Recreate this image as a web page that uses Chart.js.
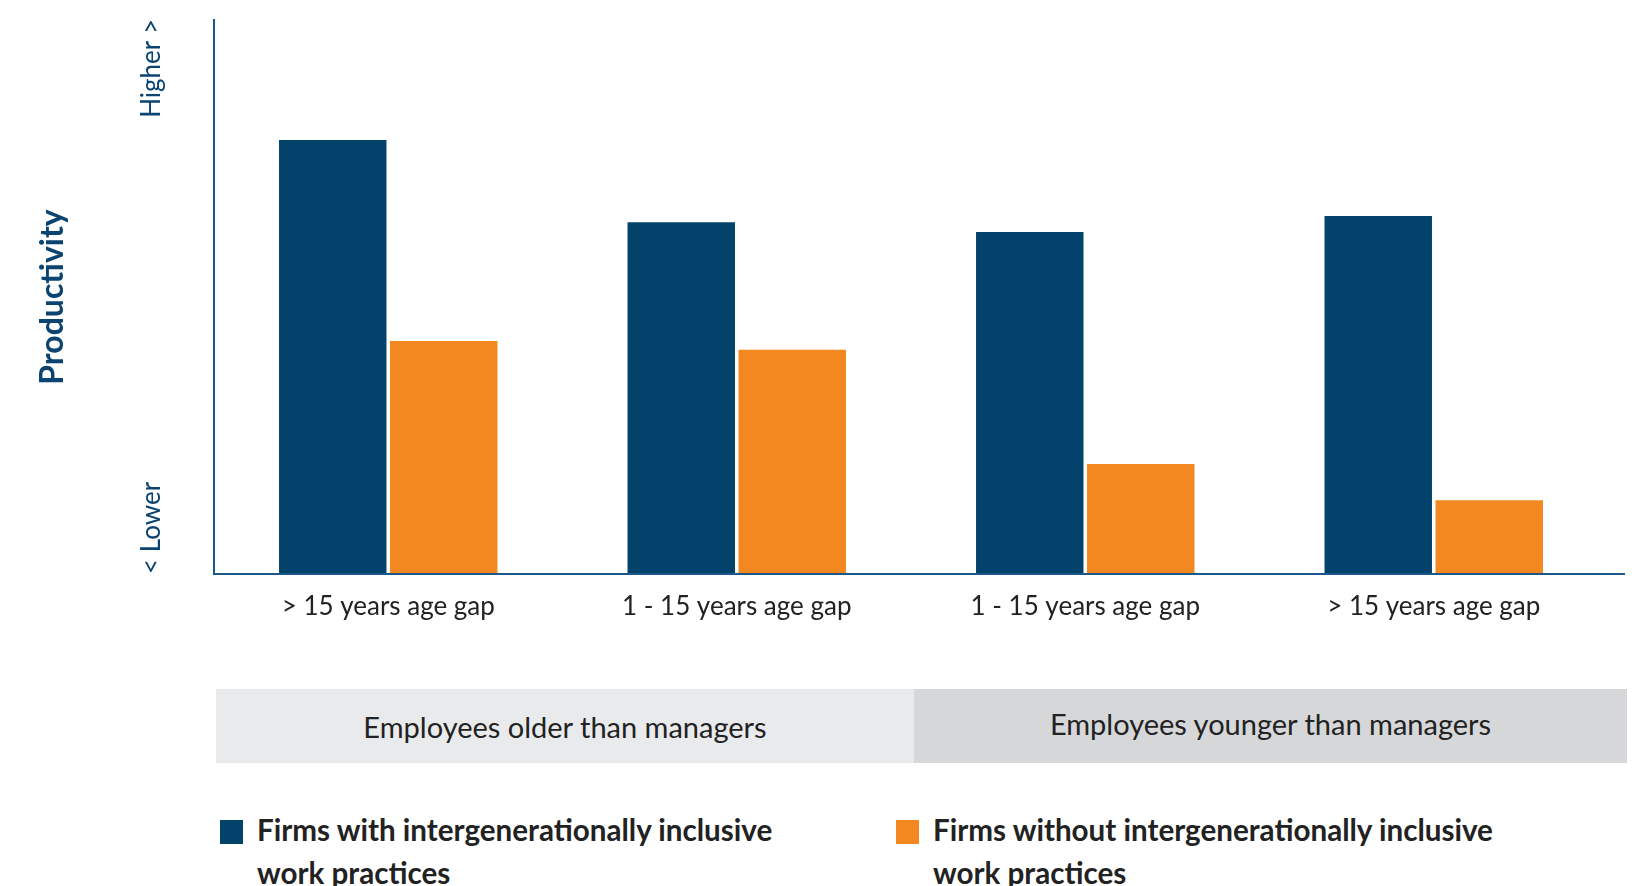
<!DOCTYPE html>
<html>
<head>
<meta charset="utf-8">
<script src="https://cdn.jsdelivr.net/npm/chart.js@4.4.1/dist/chart.umd.min.js"></script>
<style>
  body { margin: 0; width: 1645px; height: 886px; background: #fff; font-family: Lato, sans-serif; overflow: hidden; }
  #wrap { position: absolute; left: 0; top: 0; width: 1645px; height: 650px; }
  .band { position: absolute; top: 689px; height: 74px; display: flex; align-items: center; justify-content: center; font-size: 29px; color: #222; }
  .leg { position: absolute; top: 808px; font-size: 29.6px; font-weight: bold; color: #222; line-height: 43px; }
  .leg span { position: absolute; left: -37px; top: 12px; width: 23px; height: 24px; }
</style>
</head>
<body>
<div id="wrap"><canvas id="Chart"></canvas></div>
<div class="band" style="left:216px;width:698px;background:#e9eaec;">Employees older than managers</div>
<div class="band" style="left:914px;width:713px;background:#d6d7d9;padding-bottom:6px;box-sizing:border-box;">Employees younger than managers</div>
<div class="leg" style="left:257px;"><span style="background:#02426b"></span>Firms with intergenerationally inclusive<br>work practices</div>
<div class="leg" style="left:933px;"><span style="background:#f38820"></span>Firms without intergenerationally inclusive<br>work practices</div>
<script>
  //----- productivity by age gap
  const gaps = ['> 15 years age gap', '1 - 15 years age gap', '1 - 15 years age gap', '> 15 years age gap'];
  const inclusive = [78.2, 63.4, 61.6, 64.5];
  const notInclusive = [42.0, 40.4, 19.8, 13.3];
  const seriesNames = ['Firms with intergenerationally inclusive work practices', 'Firms without intergenerationally inclusive work practices'];

  const navy = '#02426b';
  const orange = '#f38820';
  const axisBlue = '#1d5689';

  // axis lines and the rotated y texts
  const axisText = {
    id: 'axisText',
    afterDraw(c) {
      const ctx = c.ctx, a = c.chartArea;
      ctx.save();
      ctx.strokeStyle = axisBlue;
      ctx.lineWidth = 2;
      ctx.beginPath();
      ctx.moveTo(a.left, a.top);
      ctx.lineTo(a.left, a.bottom);
      ctx.lineTo(a.right + 17, a.bottom);
      ctx.stroke();

      ctx.fillStyle = '#0b4470';
      ctx.textBaseline = 'middle';
      ctx.translate(152, 0);
      ctx.rotate(-Math.PI / 2);
      ctx.font = '26px Lato';
      ctx.textAlign = 'right';
      ctx.fillText('Higher >', -a.top, 0);
      ctx.textAlign = 'left';
      ctx.fillText('< Lower', -a.bottom, 0);
      ctx.restore();

      ctx.save();
      ctx.fillStyle = '#0b4470';
      ctx.translate(53, 297);
      ctx.rotate(-Math.PI / 2);
      ctx.font = 'bold 32px Lato';
      ctx.textAlign = 'center';
      ctx.textBaseline = 'middle';
      ctx.fillText('Productivity', 0, 0);
      ctx.restore();
    }
  };

  const chart = document.getElementById('Chart').getContext('2d');
  const prodChart = new Chart(chart, {
    type: 'bar',
    data: {
      labels: gaps,
      datasets: [{
        label: seriesNames[0],
        data: inclusive,
        backgroundColor: navy,
        categoryPercentage: 0.637,
        barPercentage: 0.968
      }, {
        label: seriesNames[1],
        data: notInclusive,
        backgroundColor: orange,
        categoryPercentage: 0.637,
        barPercentage: 0.968
      }]
    },
    options: {
      responsive: true,
      maintainAspectRatio: false,
      animation: false,
      layout: { padding: { left: 214, right: 37, top: 19, bottom: 0 } },
      plugins: { legend: { display: false }, tooltip: { enabled: false } },
      scales: {
        x: {
          grid: { display: false },
          border: { display: false },
          ticks: { color: '#222', font: { family: 'Lato', size: 26 }, padding: 9, maxRotation: 0 },
          afterFit(s) { s.height = 76; }
        },
        y: {
          min: 0,
          max: 100,
          grid: { display: false },
          border: { display: false },
          ticks: { display: false },
          afterFit(s) { s.width = 0; }
        }
      }
    },
    plugins: [axisText]
  });
</script>
</body>
</html>
